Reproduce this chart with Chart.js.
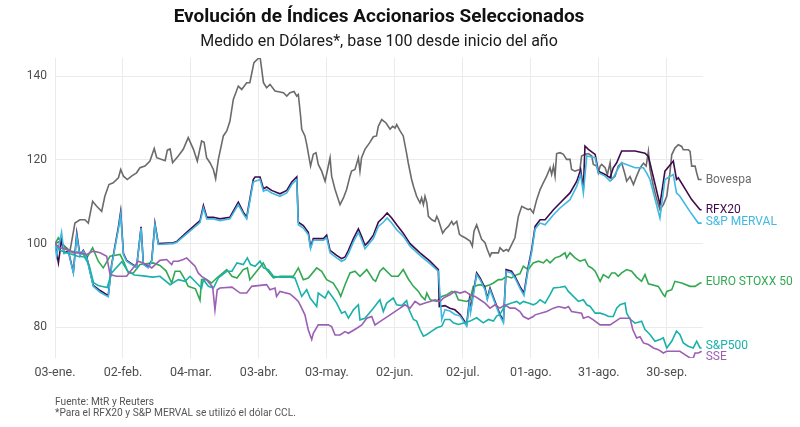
<!DOCTYPE html>
<html lang="es">
<head>
<meta charset="utf-8">
<title>Evolución de Índices Accionarios Seleccionados</title>
<script src="https://cdn.jsdelivr.net/npm/chart.js@4.4.1/dist/chart.umd.min.js"></script>
<style>
  html, body { margin: 0; padding: 0; background: #ffffff; }
  #contenedor { width: 800px; height: 427px; }
</style>
</head>
<body>
<div id="contenedor"><canvas id="grafico"></canvas></div>
<script>
// dias desde el 03-ene, con su etiqueta
const diasTicks = [0, 30, 60, 90, 120, 150, 180, 210, 240, 270];
const etiquetasTicks = ['03-ene.', '02-feb.', '04-mar.', '03-abr.', '03-may.', '02-jun.', '02-jul.', '01-ago.', '31-ago.', '30-sep.'];
const valoresTicksY = [80, 100, 120, 140];

// [dia, indice base 100]
const bovespa = [[0,100],[2,100.5],[4,99.5],[6.6,98.2],[8.8,104.9],[11,105.7],[13.2,105.7],[14.7,104.9],[16.6,110.1],[18.4,108.9],[20.6,107.7],[22,111.3],[23.8,114.1],[25.7,114.5],[28,115.7],[29,117.7],[30.2,116.1],[31.9,115.3],[33.8,116.1],[36,116.9],[37.5,118.1],[39.7,118.5],[41.9,119.7],[43.8,122.7],[44.9,120.5],[48.6,119.8],[49.6,122.3],[50.8,122.6],[51.9,119.3],[54.4,120.9],[56.6,122.5],[58.8,125.3],[61.1,122.5],[62.8,119.7],[64.7,124.5],[65.8,124.2],[66.9,120.5],[68.4,119.3],[69.9,117.7],[70.9,115.5],[72.1,120.1],[74.3,125.7],[75.8,126.9],[77.2,129.2],[78.7,134.4],[80.9,137.6],[82.4,136.8],[84.6,138.4],[86,138.4],[87.8,143.2],[90.5,144.6],[92,138.4],[93.4,137.2],[94.9,138],[97.1,136.4],[99.3,136.2],[100.8,136],[102.3,135.2],[103.7,136],[105.5,136.3],[106.7,135.2],[107.4,135.6],[108.4,130.4],[108.9,127.3],[110.3,125.7],[111.1,123.7],[112.8,118.5],[114,121.3],[115.2,121.7],[116.2,118.9],[117.7,117.3],[119.2,114.9],[121.4,120.5],[122.1,116.1],[123.6,112.9],[125.8,109.3],[127.3,110.9],[128.7,112.9],[130.2,116.1],[130.9,117.3],[132.4,117.7],[133.9,120.5],[134.6,117.3],[135.3,120.5],[136.8,122.5],[138.9,124.1],[140.5,125.5],[141.9,125.7],[142.7,128],[144.2,129.6],[146.1,128.8],[147.9,127.3],[149,128],[150.1,127.6],[150.8,128.4],[152.3,126.9],[153.7,125.7],[155.2,121.5],[155.9,119.3],[157.4,115.3],[158.2,113.7],[159.6,111.3],[161.1,109.7],[161.8,110.9],[162.6,109.3],[163.3,111.3],[164.1,109.7],[164.8,106.5],[166.3,105.7],[167.7,105.3],[168.5,106.5],[169.2,105.7],[169.9,104.5],[171.1,102.5],[172.1,103.3],[173.6,104.1],[175.1,105.3],[175.8,104.5],[177.3,105.3],[178.5,102.2],[179.5,101.8],[181,101.4],[183.2,100.6],[184.2,99.4],[184.9,102.9],[186.1,104.5],[187.1,102.9],[188.3,101],[189.8,100.2],[190.8,98.6],[192,97],[192.7,97.8],[195.7,97.8],[196.4,99],[197.9,98.2],[199.3,98.6],[200.1,98.2],[201.2,99.4],[203,101.4],[204.5,106.5],[206,108.9],[207.4,108.5],[208.9,108.1],[209.7,108.3],[211.1,107.3],[212.6,110.5],[214.1,112.9],[215.5,114.5],[217,116.1],[218.5,118.1],[219.2,116.5],[220,118.5],[220.7,116.1],[221.4,121.5],[222.9,121.7],[224.4,121.3],[225.8,120.1],[227.3,120.1],[228,117.7],[229.5,117.3],[231.7,117.7],[232.4,120.9],[233.9,121.3],[235.4,121.5],[236.9,120.9],[237.6,118.9],[239.1,118.5],[239.8,116.9],[240.6,118.5],[241.3,118.9],[242.8,118.1],[243.8,116.5],[245,119.3],[245.7,115.3],[247.2,116.1],[248.6,118.5],[250.1,119.3],[251.6,116.5],[252.3,114.9],[253.8,116],[255.3,114.1],[256.7,116.1],[258.2,118],[259.7,119.2],[260.9,118.5],[261.9,122],[262.6,117.7],[264.1,113.7],[265.6,110.5],[267,108.1],[268.5,109.3],[270,111.3],[271.4,116.9],[272.2,121.2],[273.6,122.8],[275.1,123.6],[276.6,123.2],[277.3,122.4],[279.5,122.4],[280.3,122],[281,118.5],[282.5,118.5],[283.2,116.9],[284,115.3],[285.4,115.3]];

const rfx20 = [[0,100],[1.5,95.4],[2.9,101],[4,97.8],[5.9,98.2],[8.1,93.2],[9.6,102.5],[11,97.2],[12.5,98.4],[14,96.8],[16.9,90],[19.9,88.8],[23.5,87.6],[25,95],[28,104],[29,107.7],[30.2,97.6],[31.6,96],[36,94.4],[38,104],[39,95.2],[41.2,94.4],[42.7,96],[44.1,104.9],[45.6,100],[52.2,100.2],[53.7,100.5],[58.1,102.7],[64,105.5],[65.5,109.1],[67,106.3],[69.9,106.3],[72.8,105.9],[77.2,106.3],[80.9,109.9],[83.1,107.5],[84.6,106.3],[87.5,115.3],[88.3,115.9],[90.5,115.9],[92,113.1],[93.4,113.5],[95.6,112.7],[99.3,111.9],[102.3,112.7],[104.5,114.7],[106.7,115.9],[107.4,105.1],[109.6,104.3],[111.8,102.7],[112.8,99.2],[114,101.2],[118.5,101.2],[119.9,102],[121.4,98.4],[124.3,97.2],[126.5,96.4],[128,96.8],[129.5,98.4],[131.7,101.2],[133.9,103.5],[135.4,101.6],[136.8,99.6],[138.3,100.4],[140.5,102],[142.7,105.1],[144.9,106.3],[146.6,107.3],[148.6,106.1],[150.8,104.5],[153.7,102.5],[156.7,100],[161.1,97.8],[165.5,95.8],[169.2,93.8],[169.6,85],[172.1,85.2],[174.3,84.6],[176.5,84.2],[178.8,83.1],[181.7,80.7],[182.9,86.6],[183.4,84.2],[186.1,93],[187.6,91.8],[189.8,89.4],[190.8,87],[192,89.4],[194.2,86.2],[196.4,83.1],[197.9,81.5],[199.1,93.8],[201.5,93.4],[203,92.2],[205.2,89.8],[207,88.2],[208.9,94.6],[210.4,98.6],[211.9,104.1],[214.1,105.7],[216.3,105.7],[220,108.1],[222.9,109.7],[227.3,112.1],[230.3,114.9],[232,117.7],[233.2,113],[233.9,123.3],[235.4,122.5],[238.4,121.3],[239.8,117.3],[242.8,116.5],[245,115.7],[246.4,118.1],[247.9,119.3],[250.1,122.1],[256,122.1],[260.4,121.6],[261.9,120.8],[267,109.3],[269.2,117.3],[272.9,119.7],[274.3,115.3],[275.1,115.7],[281,110.5],[284.7,108.1],[285.4,108.1]];

const merval = [[0,100],[0.7,97],[2.9,102.7],[4,97.6],[5.9,98],[8.1,93],[9.6,101.8],[11,97],[12.5,98.2],[14,96.6],[16.9,89.8],[19.9,88.4],[23.5,87.3],[25,94.8],[28,103.5],[29,107],[30.2,97.4],[31.6,95.8],[36,94.2],[38,103.7],[39,95],[41.2,94.2],[42.7,95.8],[44.1,104.5],[45.6,99.8],[52.2,100],[53.7,100.3],[58.1,102.3],[64,105],[65.5,108.5],[67,105.9],[69.9,105.9],[72.8,105.5],[77.2,105.9],[80.9,109.3],[83.1,107.1],[84.6,105.9],[87.5,114.7],[88.3,114.9],[90.5,115.3],[92,112.5],[93.4,112.9],[95.6,112.1],[99.3,111.3],[102.3,112.1],[104.5,114.1],[106.7,115.3],[107.4,104.5],[109.6,103.7],[111.8,102.1],[112.8,98.8],[114,100.8],[118.5,100.8],[119.9,101.4],[121.4,97.8],[124.3,96.6],[126.5,95.8],[128,96.2],[129.5,97.6],[131.7,100.4],[133.9,102.7],[135.4,100.8],[136.8,98.8],[138.3,99.8],[140.5,101.2],[142.7,104.1],[144.9,105.1],[146.6,106.1],[148.6,104.9],[150.8,103.3],[153.7,101.8],[156.7,99.4],[161.1,97.2],[165.5,95.2],[169.2,93.4],[170.7,81.9],[172.1,84.2],[174.3,83.9],[176.5,83.1],[178.8,82.7],[181.7,80.3],[182.9,85.8],[183.4,83.5],[186.1,92.6],[187.6,91.4],[189.8,89],[190.8,86.6],[192,89],[194.2,85.8],[196.4,82.7],[197.9,81.1],[199.1,93.4],[201.5,93],[203,91.8],[205.2,89.4],[207,87.6],[208.9,94],[210.4,98],[211.9,103.5],[214.1,104.9],[216.3,104.5],[220,106.9],[222.9,108.5],[227.3,110.5],[230.3,113.7],[232,116.5],[233.2,112.1],[234.7,120.9],[238.4,120.5],[239.8,116.9],[242.8,116.1],[245,114.9],[246.4,115.7],[247.9,117.3],[250.1,119.3],[256,118.1],[259.7,118.1],[261.1,116.9],[262.6,115.3],[267,106.1],[269.2,115.3],[272.9,116.5],[274.3,112.1],[275.8,111.3],[280.2,107.7],[283.9,104.9],[285.4,104.9]];

const euroStoxx = [[0,100],[1.5,101.4],[4.4,99],[6.6,98.2],[11.8,97.8],[14,96.6],[16.6,99],[19.1,95.8],[21.3,94.2],[24.3,97],[28.7,97.4],[30.2,95.8],[32.4,93],[34.6,93],[37.5,95],[43.4,95.4],[46.3,94.8],[49,93.5],[51.5,90.6],[53,93.4],[55.2,93.4],[57.4,91.4],[58.8,89.8],[62,89.2],[64,86.5],[64.7,91.4],[66.9,91.4],[69.1,90.6],[71.4,91.8],[75.8,93.8],[78.1,92.2],[80.3,91.8],[83.1,93.8],[84.9,94.2],[86,91.4],[89,93.4],[91.9,95.4],[93.4,93.8],[96.4,91.8],[99.3,92.2],[105.2,92.2],[107.4,94.2],[109.6,91.4],[111.8,91.8],[115.5,94.2],[117.7,93.4],[119.9,91.4],[122.8,90.6],[125.1,88.6],[126.1,87.4],[128,90.2],[130.2,93],[132.4,93.4],[134.6,92.2],[137.6,93.8],[140.5,91.4],[141.5,91],[143.4,93.4],[144.9,94.2],[148.6,92.2],[151.5,92.2],[153.7,93.8],[156,91.5],[158.2,89.8],[160.4,88.6],[161.8,87.4],[163.3,86.6],[164.1,88.2],[165.6,86.6],[168.5,86.2],[170.7,87.4],[173,87.8],[175.2,88.6],[176.8,88.2],[178,86.6],[181.7,86.2],[183.2,86.6],[184.6,89.8],[187.6,90.2],[189.8,89.8],[192,90.2],[193.5,90.6],[195.7,91.4],[197.2,91.4],[199.3,92.2],[201.5,91.8],[203.8,92.6],[205.2,92.8],[206.7,94.6],[208.9,93.8],[211.1,95.4],[213.4,95.8],[215.6,95.4],[217,96.2],[218.5,95.4],[220.7,96.6],[222.9,97],[225.1,97.8],[225.8,96.6],[227.3,97.8],[229.5,96.6],[231.7,95.8],[233.9,96.2],[235.4,94.6],[236.9,94.2],[238.4,93.4],[240.6,91],[242,92.6],[244.3,91.8],[245.7,93],[247.2,93],[248.6,92.2],[250.1,93],[252.3,93.8],[254.5,93.4],[256.7,92],[258.9,91],[260.4,92.6],[261.9,90.4],[266.3,89.8],[268.5,87.8],[269.2,87.4],[270,88.6],[272.2,89],[273.6,91],[276.6,90.6],[280.3,89.8],[282.5,89.8],[284.7,90.6],[285.4,90.6]];

const sp500 = [[0,100],[2,98.5],[4,98],[7,97.5],[10,97],[13,96.8],[15,95],[17,90.7],[19,90],[23,89.5],[25,93],[29.5,95.7],[32,93.5],[35,92.5],[39,92.3],[43,92],[46.3,92.2],[50.8,90.2],[54.4,91.4],[57.4,91],[59.6,92.2],[62.5,90.6],[64.7,89.4],[65.5,91.4],[67.7,89.8],[69.9,89.4],[72.1,91.8],[75.8,93.4],[78.1,93.4],[80.3,95.4],[83.1,95],[84.9,96.6],[86.3,95],[88.3,94.6],[90.5,95.8],[92,94.2],[94.2,93.8],[96.4,92.2],[99.3,92],[103.7,92],[105.9,91.8],[108.9,87.4],[111.1,89],[112.6,87],[115.5,85],[116.2,88.2],[119.2,87],[120.6,88.6],[122.8,87],[124.3,85.8],[126.5,83.4],[128,83.8],[129.5,82.2],[131.7,84.2],[133.9,85.4],[134.6,81.8],[136.8,82.2],[140.5,84.6],[143.4,86.6],[144.9,83.8],[146.4,85.8],[149.3,87],[150.8,85.4],[153,85.2],[155.2,86.4],[156,84.6],[158.2,81.9],[159.6,81.5],[161.1,79.5],[162.6,77.9],[164.1,78.3],[166.3,79.1],[168.5,79.9],[170.7,80.3],[172.1,81.9],[174.3,81.9],[175.8,81.1],[178,80.7],[180.9,81.1],[183.2,81.5],[186.1,82.3],[189,81.1],[191.3,81.9],[193.5,81.5],[194.9,82.7],[196.4,83.1],[197.9,84.6],[199.4,85.4],[201.5,85.8],[203.8,86.2],[205.2,85.6],[206.7,86.2],[208.9,85.8],[211.1,85.4],[212.6,85.8],[214.1,86.6],[216.3,85.8],[218.5,87.8],[220,89.4],[222.9,89.6],[225.1,89.8],[226.6,88.6],[228.8,87.4],[231,86.2],[233.2,86.6],[234.7,85.4],[236.2,85],[238.4,83.4],[240.6,83.4],[242.8,83],[244.3,82.6],[246.4,82.6],[247.9,84.6],[249.4,85.4],[251.6,85.8],[252.3,83.4],[253.8,82],[256,81],[258.9,81.5],[260.4,79.5],[262.6,78.3],[264.8,76.7],[267,77.1],[268.5,77.5],[270,75.1],[272.2,76.7],[274.3,79.1],[275.8,78.3],[277.3,76.3],[279.5,75.5],[281.7,75.1],[283.2,76.7],[284.7,75.1],[285.4,75.1]];

const sse = [[0,100],[2.2,99],[5.1,98.6],[8.1,97.8],[11,97.8],[14,97.4],[16.9,98.2],[19.9,97.8],[22.8,97],[24.3,92.6],[27.2,92.2],[31.6,92.2],[36.8,95.8],[40.5,95],[42.7,94.2],[46.3,96],[49.3,96.2],[51.5,95],[52.2,95.8],[54.4,95.8],[56.6,96.2],[58.1,96.6],[60.3,95.4],[61.8,94.6],[63.2,93],[64.7,92.2],[66.9,91.4],[69.6,89.6],[70.6,84.2],[71.6,89],[72.8,89.4],[78.1,89.6],[81.7,88.2],[84.6,88.2],[86.8,89.8],[93.4,90.2],[94.9,89],[97.1,89.4],[97.8,87.4],[99.3,88.6],[103.7,88],[105.9,87],[107.4,86.2],[108.9,84.6],[110.3,83],[111.8,79.4],[113.3,77.1],[114,78.6],[116.2,80.6],[120.6,80.6],[122.1,80.2],[123.6,78.2],[125.8,78.2],[128,79],[129.5,78.6],[133.2,79.8],[135.4,80.6],[137.6,82.2],[139.8,82.6],[141.2,80.6],[143.4,81.4],[147.9,83],[152.3,84.6],[154.5,85.4],[156.7,84.6],[158.9,86.2],[161.1,85.4],[163.3,85.8],[165.6,86.2],[167.7,86.6],[170,86.2],[171.4,87],[174.3,87.8],[176.5,88.6],[178.8,88.2],[181,88.6],[183.2,87.8],[185.4,87.4],[187.6,86.6],[189.8,85.8],[192,84.6],[194.2,85.4],[196.4,84.6],[198.6,85.4],[200.8,84.6],[203,84.6],[205.2,83.8],[206.7,82.6],[208.9,82],[211.1,82.6],[211.9,83],[217,83.8],[220,84.6],[222.2,85],[225.1,84.6],[226.6,85],[228,83.8],[232.4,83.4],[233.2,82.2],[235.4,82.6],[237.6,81.8],[240.6,80.6],[245,80.6],[247.2,81.4],[249.4,82.2],[253.8,82.2],[255,79.5],[256.7,77.5],[258.2,77.8],[259.7,76.3],[261.9,75.9],[264.1,75.1],[266.3,74.7],[268.5,73.9],[270,74.3],[275.8,74.3],[278,73.5],[280.3,72.7],[281.7,72.7],[282.5,73.9],[284,73.9],[285.4,74.3]];

const aPuntos = serie => serie.map(p => ({ x: p[0], y: p[1] }));

function linea(nombre, serie, color, ajuste) {
    return {
        label: nombre,
        data: aPuntos(serie),
        borderColor: color,
        backgroundColor: color,
        borderWidth: 1.6,
        pointRadius: 0,
        tension: 0,
        ajusteEtiqueta: ajuste || 0
    };
}

// etiquetas al final de cada linea y nota de fuente
const etiquetasFinales = {
    id: 'etiquetasFinales',
    afterDatasetsDraw(chart) {
        const ctx = chart.ctx;
        const x = chart.scales.x;
        const y = chart.scales.y;
        ctx.save();
        ctx.font = '12px Roboto';
        ctx.textBaseline = 'middle';
        ctx.textAlign = 'left';
        chart.data.datasets.forEach(ds => {
            const ultimo = ds.data[ds.data.length - 1];
            const px = x.getPixelForValue(ultimo.x);
            const py = y.getPixelForValue(ultimo.y) + ds.ajusteEtiqueta;
            ctx.fillStyle = ds.borderColor;
            ctx.fillText(ds.label, px + 4, py);
        });

        ctx.font = '10.2px Roboto';
        ctx.fillStyle = '#555555';
        ctx.fillText('Fuente: MtR y Reuters', 55, 402.5);
        ctx.fillText('*Para el RFX20 y S&P MERVAL se utilizó el dólar CCL.', 55, 413.5);
        ctx.restore();
    }
};

Chart.defaults.font.family = 'Roboto';

const ctx = document.getElementById('grafico').getContext('2d');
new Chart(ctx, {
    type: 'line',
    data: {
        // el primero se dibuja arriba
        datasets: [
            linea('SSE', sse, '#9b5fb4', 6),
            linea('S&P500', sp500, '#19b1a9', -2),
            linea('S&P MERVAL', merval, '#3fb8e2', -1),
            linea('RFX20', rfx20, '#3f0a4c', 0),
            linea('EURO STOXX 50', euroStoxx, '#33a852', -1.5),
            linea('Bovespa', bovespa, '#6b6b6b', 0)
        ]
    },
    options: {
        responsive: true,
        maintainAspectRatio: false,
        animation: false,
        layout: { padding: { left: 0, right: 97, top: 0, bottom: 0 } },
        plugins: {
            legend: { display: false },
            tooltip: { enabled: false },
            title: {
                display: true,
                fullSize: false,
                text: 'Evolución de Índices Accionarios Seleccionados',
                color: '#111111',
                font: { size: 19, weight: 'bold', lineHeight: 1.2 },
                padding: { top: 6, bottom: 4 }
            },
            subtitle: {
                display: true,
                fullSize: false,
                text: 'Medido en Dólares*, base 100 desde inicio del año',
                color: '#1a1a1a',
                font: { size: 16, lineHeight: 1.2 },
                padding: { top: 0, bottom: 6 }
            }
        },
        scales: {
            x: {
                type: 'linear',
                min: 0,
                max: 286,
                border: { display: false },
                grid: { color: '#ebebeb', lineWidth: 1, drawTicks: false },
                afterBuildTicks: scale => { scale.ticks = diasTicks.map(v => ({ value: v })); },
                afterFit: scale => { scale.height = 69; },
                ticks: {
                    padding: 7,
                    color: '#4d4d4d',
                    font: { size: 12.5 },
                    maxRotation: 0,
                    autoSkip: false,
                    callback: value => etiquetasTicks[diasTicks.indexOf(value)]
                }
            },
            y: {
                min: 72.7,
                max: 144.3,
                border: { display: false },
                grid: { color: '#ebebeb', lineWidth: 1, drawTicks: false },
                afterBuildTicks: scale => { scale.ticks = valoresTicksY.map(v => ({ value: v })); },
                afterFit: scale => { scale.width = 55; },
                ticks: {
                    padding: 8,
                    color: '#4d4d4d',
                    font: { size: 12 }
                }
            }
        }
    },
    plugins: [etiquetasFinales]
});
</script>
</body>
</html>
